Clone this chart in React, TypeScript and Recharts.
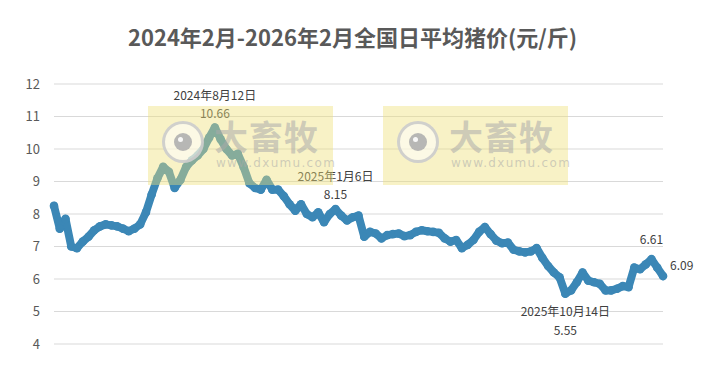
import React from "react";
import { CartesianGrid, Line, LineChart, XAxis, YAxis } from "recharts";

const dates = [
  "2024-02-01", "2024-02-05", "2024-02-12", "2024-02-19", "2024-02-26",
  "2024-03-04", "2024-03-11", "2024-03-18", "2024-03-25",
  "2024-04-01", "2024-04-08", "2024-04-15", "2024-04-22", "2024-04-29",
  "2024-05-06", "2024-05-13", "2024-05-20", "2024-05-27",
  "2024-06-03", "2024-06-10", "2024-06-17", "2024-06-24",
  "2024-07-01", "2024-07-08", "2024-07-15", "2024-07-22", "2024-07-29",
  "2024-08-05", "2024-08-12", "2024-08-19", "2024-08-26",
  "2024-09-02", "2024-09-09", "2024-09-16", "2024-09-23", "2024-09-30",
  "2024-10-07", "2024-10-14", "2024-10-21", "2024-10-28",
  "2024-11-04", "2024-11-11", "2024-11-18", "2024-11-25",
  "2024-12-02", "2024-12-09", "2024-12-16", "2024-12-23", "2024-12-30",
  "2025-01-06", "2025-01-13", "2025-01-20", "2025-01-27",
  "2025-02-03", "2025-02-10", "2025-02-17", "2025-02-24",
  "2025-03-03", "2025-03-10", "2025-03-17", "2025-03-24", "2025-03-31",
  "2025-04-07", "2025-04-14", "2025-04-21", "2025-04-28",
  "2025-05-05", "2025-05-12", "2025-05-19", "2025-05-26",
  "2025-06-02", "2025-06-09", "2025-06-16", "2025-06-23", "2025-06-30",
  "2025-07-07", "2025-07-14", "2025-07-21", "2025-07-28",
  "2025-08-04", "2025-08-11", "2025-08-18", "2025-08-25",
  "2025-09-01", "2025-09-08", "2025-09-15", "2025-09-22", "2025-09-29",
  "2025-10-06", "2025-10-14", "2025-10-20", "2025-10-27",
  "2025-11-03", "2025-11-10", "2025-11-17", "2025-11-24",
  "2025-12-01", "2025-12-08", "2025-12-15", "2025-12-22", "2025-12-29",
  "2026-01-05", "2026-01-12", "2026-01-19", "2026-01-26",
  "2026-02-02", "2026-02-06",
];

// 元/斤
const prices = [
  8.25, 7.55, 7.85, 7.0, 6.95,
  7.15, 7.3, 7.5, 7.62,
  7.68, 7.65, 7.62, 7.55, 7.47,
  7.55, 7.68, 8.05, 8.6,
  9.1, 9.45, 9.3, 8.8,
  9.05, 9.45, 9.65, 9.8, 10.0,
  10.35, 10.66, 10.3, 10.0,
  9.8, 9.85, 9.45, 8.95, 8.8,
  8.75, 9.05, 8.75, 8.75,
  8.55, 8.3, 8.1, 8.3,
  8.0, 7.9, 8.05, 7.75, 8.0,
  8.15, 7.95, 7.8, 7.9,
  7.95, 7.3, 7.45, 7.4,
  7.25, 7.35, 7.38, 7.4, 7.32,
  7.35, 7.45, 7.5, 7.47,
  7.45, 7.42, 7.25, 7.15,
  7.2, 6.95, 7.05, 7.2, 7.45,
  7.6, 7.38, 7.18, 7.1,
  7.12, 6.9, 6.85, 6.82,
  6.85, 6.95, 6.65, 6.4, 6.2,
  6.05, 5.55, 5.65, 5.9,
  6.2, 5.95, 5.9, 5.85,
  5.65, 5.65, 5.7, 5.78, 5.75,
  6.35, 6.3, 6.45, 6.61,
  6.35, 6.09,
];

const yTicks = [4, 5, 6, 7, 8, 9, 10, 11, 12];

// annotated points: date label shown above / below the value
const dateNotes = ["2024-08-12", "2025-01-06", "2025-10-14"];
const dateNoteText = ["2024年8月12日", "2025年1月6日", "2025年10月14日"];
const valueOnlyNotes = ["2026-01-26"];
const lastDate = "2026-02-06";

const data = dates.map((d, i) => ({ date: d, price: prices[i] }));

const BLUE = "#3b87b6";
const FONT = '"Noto Sans CJK SC", "Noto Sans", sans-serif';

function PointLabel(props: any) {
  const { x, y, index } = props;
  const d = dates[index];
  const v = prices[index];
  const txt = { fontSize: 12, fill: "#404040", fontFamily: FONT };
  const k = dateNotes.indexOf(d);
  if (k >= 0) {
    const below = v < 6;
    return (
      <g>
        <text x={x} y={below ? y + 22 : y - 28} textAnchor="middle" {...txt}>
          {dateNoteText[k]}
        </text>
        <text x={x} y={below ? y + 41 : y - 10} textAnchor="middle" {...txt}>
          {v.toFixed(2)}
        </text>
      </g>
    );
  }
  if (valueOnlyNotes.includes(d)) {
    return (
      <text x={x} y={y - 15} textAnchor="middle" {...txt}>
        {v.toFixed(2)}
      </text>
    );
  }
  if (d === lastDate) {
    return (
      <text x={x + 7} y={y - 6} textAnchor="start" {...txt}>
        {v.toFixed(2)}
      </text>
    );
  }
  return null;
}

function Watermark({ left }: { left: number }) {
  return (
    <div
      style={{
        position: "absolute",
        left,
        top: 106,
        width: 185,
        height: 79,
        background: "rgba(238, 224, 120, 0.42)",
        pointerEvents: "none",
      }}
    >
      <div
        style={{
          position: "absolute",
          left: 14,
          top: 15,
          width: 42,
          height: 42,
          borderRadius: "50%",
          border: "3px solid rgba(200,200,200,0.85)",
          background: "rgba(255,255,255,0.55)",
          boxSizing: "border-box",
        }}
      >
        <div
          style={{
            position: "absolute",
            left: 9,
            top: 9,
            width: 18,
            height: 18,
            borderRadius: "50%",
            background: "rgba(175,175,175,0.9)",
          }}
        >
          <div
            style={{
              position: "absolute",
              left: 4,
              top: 4,
              width: 5,
              height: 5,
              borderRadius: "50%",
              background: "rgba(255,255,255,0.9)",
            }}
          />
        </div>
      </div>
      <div
        style={{
          position: "absolute",
          left: 66,
          top: 10,
          fontFamily: FONT,
          fontWeight: 700,
          fontSize: 34,
          lineHeight: "40px",
          color: "rgba(170,170,170,0.55)",
          letterSpacing: 1,
        }}
      >
        大畜牧
      </div>
      <div
        style={{
          position: "absolute",
          left: 68,
          top: 50,
          fontFamily: '"DejaVu Sans", sans-serif',
          fontSize: 12,
          color: "rgba(170,170,170,0.55)",
          letterSpacing: 1.3,
        }}
      >
        www.dxumu.com
      </div>
    </div>
  );
}

export default function App() {
  return (
    <div
      style={{
        position: "absolute",
        left: 0,
        top: 0,
        width: 705,
        height: 368,
        background: "#fff",
      }}
    >
      <div
        style={{
          position: "absolute",
          left: 0,
          top: 20,
          width: 705,
          textAlign: "center",
          fontFamily: FONT,
          fontWeight: 700,
          fontSize: 22,
          lineHeight: "32px",
          color: "#595959",
        }}
      >
        2024年2月-2026年2月全国日平均猪价(元/斤)
      </div>
      <LineChart
        width={705}
        height={368}
        data={data}
        margin={{ top: 84, right: 42, bottom: 24, left: 0 }}
      >
        <CartesianGrid vertical={false} stroke="#d9d9d9" />
        <XAxis dataKey="date" hide padding={{ left: 0, right: 0 }} />
        <YAxis
          width={54}
          domain={[4, 12]}
          ticks={yTicks}
          interval={0}
          axisLine={false}
          tickLine={false}
          tickMargin={8}
          tick={{ fontSize: 13, fill: "#595959", fontFamily: FONT }}
        />
        <Line
          type="linear"
          dataKey="price"
          stroke={BLUE}
          strokeWidth={8}
          strokeLinejoin="round"
          strokeLinecap="round"
          dot={{ r: 4.3, fill: BLUE, stroke: "none" }}
          isAnimationActive={false}
          label={<PointLabel />}
        />
      </LineChart>
      <Watermark left={148} />
      <Watermark left={383} />
    </div>
  );
}
